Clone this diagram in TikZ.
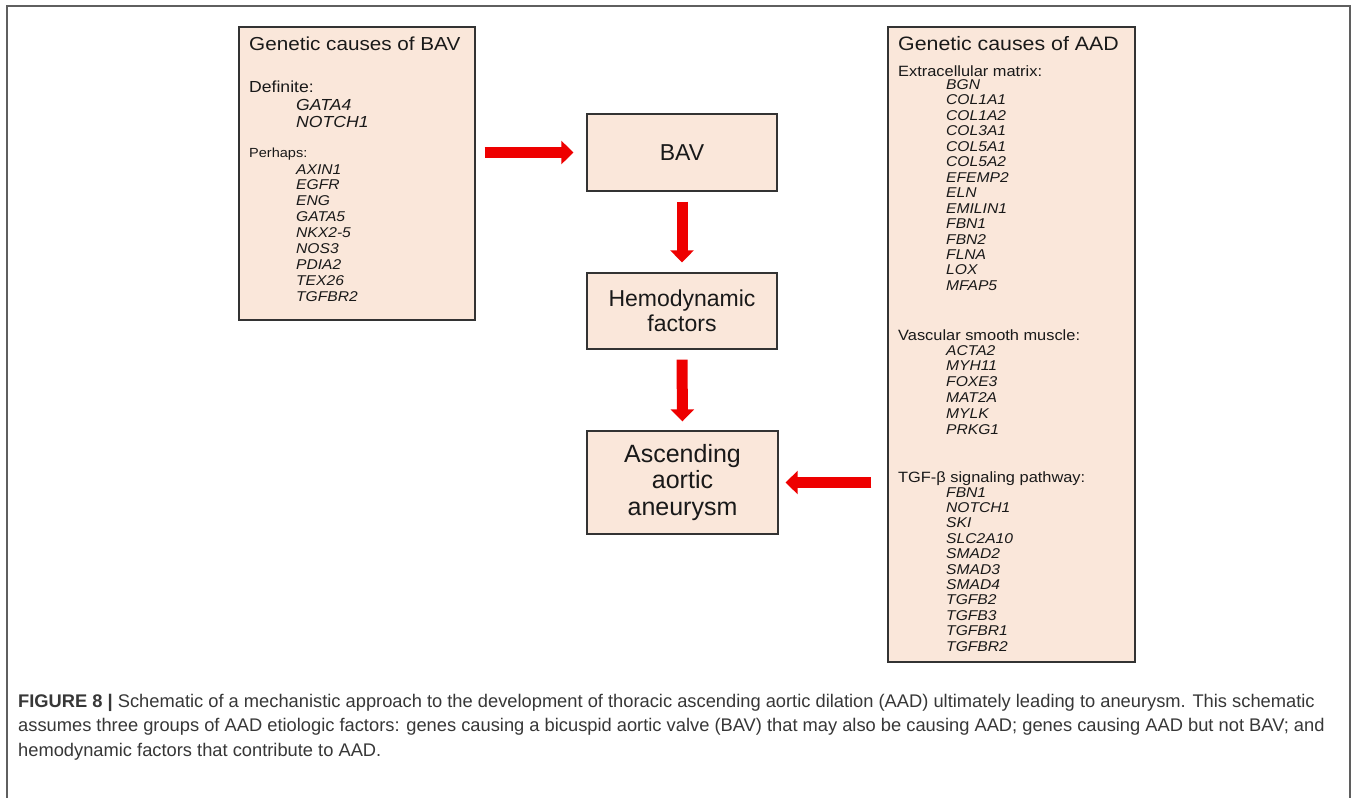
\documentclass[tikz,border=0pt]{standalone}
\usepackage{fontspec}
\setmainfont{Liberation Sans}
\newfontfamily\widesans[FakeStretch=1.1]{Liberation Sans}
\usetikzlibrary{arrows.meta}
\definecolor{boxfill}{RGB}{250,231,218}
\definecolor{arrred}{RGB}{238,0,0}
\definecolor{framegray}{RGB}{95,95,95}
\definecolor{txt}{RGB}{25,25,25}
\definecolor{captxt}{RGB}{55,55,55}
\newcommand{\fsz}[1]{\fontsize{#1}{#1}\selectfont}
\begin{document}
\begin{tikzpicture}[x=1pt,y=-1pt,
  box/.style={draw=black!80, line width=1.3pt, fill=boxfill, inner sep=0pt},
  midbox/.style={box, align=center, text=txt, font=\fontsize{23}{25.5}\selectfont},
  lbl/.style={anchor=base west, inner sep=0pt, text=txt},
  gene/.style={lbl, font=\widesans\fsz{14.2}\itshape},
  capt/.style={anchor=base west, inner sep=0pt, text=captxt, font=\fsz{18.3}},
  redarrow/.style={draw=arrred, line width=11pt, -{Triangle[width=23pt,length=12pt]}}]
\useasboundingbox (0,0) rectangle (1358,798);
\fill[white] (0,0) rectangle (1358,798);
\draw[framegray, line width=2pt] (7,798) -- (7,6) -- (1350,6) -- (1350,798);

% boxes
\node[box, minimum width=236pt, minimum height=293pt] (bavgen) at (357,173.5) {};
\node[box, minimum width=247pt, minimum height=635pt] (aadgen) at (1011.5,344.5) {};
\node[midbox, minimum width=190pt, minimum height=77pt] (bav) at (682,152.5) {BAV};
\node[midbox, minimum width=190pt, minimum height=76pt] (hemo) at (682,311) {Hemodynamic\\factors};
\node[midbox, minimum width=191pt, minimum height=103pt, font=\fontsize{25}{26.7}\selectfont] (asc) at (682.5,482.5) {Ascending\\aortic\\aneurysm};

% arrows
\draw[redarrow, shorten <=9pt, shorten >=13pt] (bavgen.east |- bav.west) -- (bav.west);
\draw[redarrow, shorten <=10pt, shorten >=10pt] (bav.south) -- (hemo.north);
\draw[redarrow, shorten <=10pt, shorten >=9pt] (hemo.south) -- (asc.north);
\draw[redarrow, shorten <=16pt, shorten >=7pt] (aadgen.west |- asc.east) -- (asc.east);

% BAV genetics text
\node[lbl, font=\widesans\fsz{18.8}] (t1) at (249,50) {Genetic causes of BAV};
\node[lbl, font=\widesans\fsz{16}] (def) at (249,92) {Definite:};
\node[lbl, font=\widesans\fsz{16}\itshape] (g1) at (296,110) {GATA4};
\node[lbl, font=\widesans\fsz{16}\itshape] (g2) at (296,127) {NOTCH1};
\node[lbl, font=\widesans\fsz{13.2}] (per) at (249,157) {Perhaps:};
\foreach \g [count=\i from 0] in {AXIN1,EGFR,ENG,GATA5,NKX2-5,NOS3,PDIA2,TEX26,TGFBR2}
  \node[gene] (p\i) at (296,174+15.9*\i) {\g};

% AAD genetics text
\node[lbl, font=\widesans\fsz{19.4}] (t2) at (898,50) {Genetic causes of AAD};
\node[lbl, font=\widesans\fsz{14.9}] (ecm) at (898,76) {Extracellular matrix:};
\foreach \g [count=\i from 0] in {BGN,COL1A1,COL1A2,COL3A1,COL5A1,COL5A2,EFEMP2,ELN,EMILIN1,FBN1,FBN2,FLNA,LOX,MFAP5}
  \node[gene] (e\i) at (946,89.5+15.45*\i) {\g};
\node[lbl, font=\widesans\fsz{14.9}] (vsm) at (898,340) {Vascular smooth muscle:};
\foreach \g [count=\i from 0] in {ACTA2,MYH11,FOXE3,MAT2A,MYLK,PRKG1}
  \node[gene] (v\i) at (946,355+15.8*\i) {\g};
\node[lbl, font=\widesans\fsz{14.9}] (tgf) at (898,482) {TGF-β signaling pathway:};
\foreach \g [count=\i from 0] in {FBN1,NOTCH1,SKI,SLC2A10,SMAD2,SMAD3,SMAD4,TGFB2,TGFB3,TGFBR1,TGFBR2}
  \node[gene] (s\i) at (946,497+15.4*\i) {\g};

% caption
\node[capt] (c1) at (18,707) {\textbf{FIGURE 8 |} Schematic of a mechanistic approach to the development of thoracic ascending aortic dilation (AAD) ultimately leading to aneurysm. This schematic};
\node[capt] (c2) at (18,731.5) {assumes three groups of AAD etiologic factors: genes causing a bicuspid aortic valve (BAV) that may also be causing AAD; genes causing AAD but not BAV; and};
\node[capt] (c3) at (18,756) {hemodynamic factors that contribute to AAD.};
\end{tikzpicture}
\end{document}
